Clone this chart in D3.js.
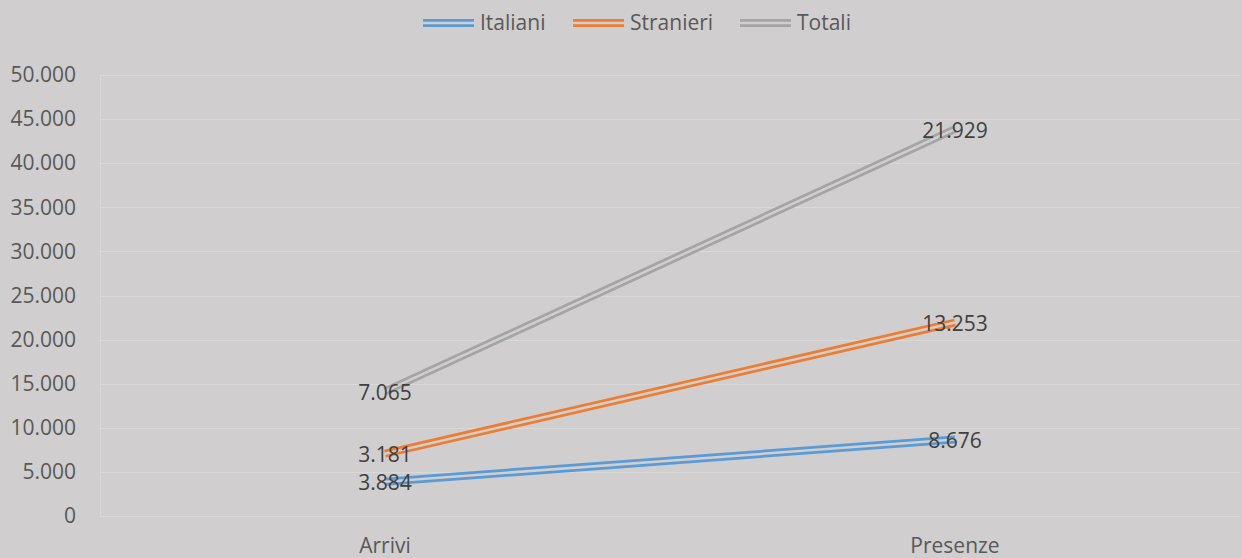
<!DOCTYPE html>
<html>
<head>
<meta charset="utf-8">
<script src="https://cdn.jsdelivr.net/npm/d3@7"></script>
<style>
  body { margin: 0; background: #d0cece; }
  svg { display: block; font-family: "Open Sans", sans-serif; }
</style>
</head>
<body>
<svg id="chart"></svg>
<script>
// categories and series (stacked line chart, labels show the series values)
var categories = ["Arrivi", "Presenze"];
var seriesNames = ["Italiani", "Stranieri", "Totali"];
var italiani = [3884, 8676];
var stranieri = [3181, 13253];
var totali = [7065, 21929];
var yTicks = [0, 5000, 10000, 15000, 20000, 25000, 30000, 35000, 40000, 45000, 50000];
var colors = ["#5b9bd5", "#ed7d31", "#a5a5a5"];

const width = 1242, height = 558;
const margin = {top: 75, right: 2, bottom: 42, left: 100};

var svg = d3.select('#chart')
  .attr('width', width)
  .attr('height', height);

svg.append('rect')
  .attr('width', width)
  .attr('height', height)
  .attr('fill', '#d0cece');

const x = d3.scaleBand()
  .domain(categories)
  .range([margin.left, width - margin.right]);

const y = d3.scaleLinear()
  .domain([0, 50000])
  .range([height - margin.bottom, margin.top]);

// stack the series like excel does
var raw = [italiani, stranieri, totali];
var stacked = [];
raw.forEach(function(s, i) {
  stacked.push(s.map(function(v, j) {
    var base = i > 0 ? stacked[i - 1][j].top : 0;
    return {cat: categories[j], value: v, top: base + v};
  }));
});

// gridlines
svg.append('g')
  .selectAll('line')
  .data(yTicks)
  .enter().append('line')
    .attr('x1', margin.left)
    .attr('x2', width - margin.right)
    .attr('y1', d => Math.round(y(d)) + 0.5)
    .attr('y2', d => Math.round(y(d)) + 0.5)
    .style('stroke', '#d9d9d9')
    .style('stroke-width', 1);

svg.append('line')
  .attr('x1', margin.left + 0.5)
  .attr('x2', margin.left + 0.5)
  .attr('y1', y(50000))
  .attr('y2', y(0))
  .style('stroke', '#d9d9d9');

// y axis labels
const fmt = d3.formatLocale({decimal: ',', thousands: '.', grouping: [3], currency: ['', '']}).format(',');
const yAxis = svg.append('g')
  .attr('transform', 'translate(' + (margin.left - 24) + ',0)')
  .call(d3.axisLeft(y).tickValues(yTicks).tickFormat(fmt).tickSize(0).tickPadding(0));
yAxis.select('.domain').remove();
yAxis.selectAll('text')
  .style('font-size', '21px')
  .style('fill', '#595959')
  .style('font-family', '"Open Sans", sans-serif');

// x axis labels
const xAxis = svg.append('g')
  .attr('transform', 'translate(0,' + (height - margin.bottom) + ')')
  .call(d3.axisBottom(x).tickSize(0).tickPadding(22));
xAxis.select('.domain').remove();
xAxis.selectAll('text')
  .style('font-size', '21px')
  .style('fill', '#595959')
  .style('font-family', '"Open Sans", sans-serif');

const line = d3.line()
  .x(d => x(d.cat) + x.bandwidth() / 2)
  .y(d => y(d.top));

// double lines: wide coloured stroke with a thin inner gap
stacked.forEach(function(s, i) {
  svg.append('path')
    .datum(s)
    .attr('d', line)
    .style('fill', 'none')
    .style('stroke', colors[i])
    .style('stroke-width', 8);
  svg.append('path')
    .datum(s)
    .attr('d', line)
    .style('fill', 'none')
    .style('stroke', '#d0cece')
    .style('stroke-width', 2.5);
});

// data labels centred on the points
stacked.forEach(function(s, i) {
  svg.append('g')
    .selectAll('text')
    .data(s)
    .enter().append('text')
      .attr('x', d => x(d.cat) + x.bandwidth() / 2)
      .attr('y', d => y(d.top) + 1)
      .attr('dy', '0.35em')
      .attr('text-anchor', 'middle')
      .style('font-size', '21px')
      .style('fill', '#404040')
      .text(d => fmt(d.value));
});

// legend
const legendX = [423, 573, 740];
const legend = svg.append('g')
  .selectAll('g')
  .data(seriesNames)
  .enter().append('g')
    .attr('transform', (d, i) => 'translate(' + legendX[i] + ',23)');
legend.append('line')
  .attr('x1', 0).attr('x2', 51)
  .style('stroke', (d, i) => colors[i])
  .style('stroke-width', 8);
legend.append('line')
  .attr('x1', 0).attr('x2', 51)
  .style('stroke', '#d0cece')
  .style('stroke-width', 2.5);
legend.append('text')
  .attr('x', 57)
  .attr('dy', '0.35em')
  .style('font-size', '21px')
  .style('fill', '#595959')
  .text(d => d);
</script>
</body>
</html>
